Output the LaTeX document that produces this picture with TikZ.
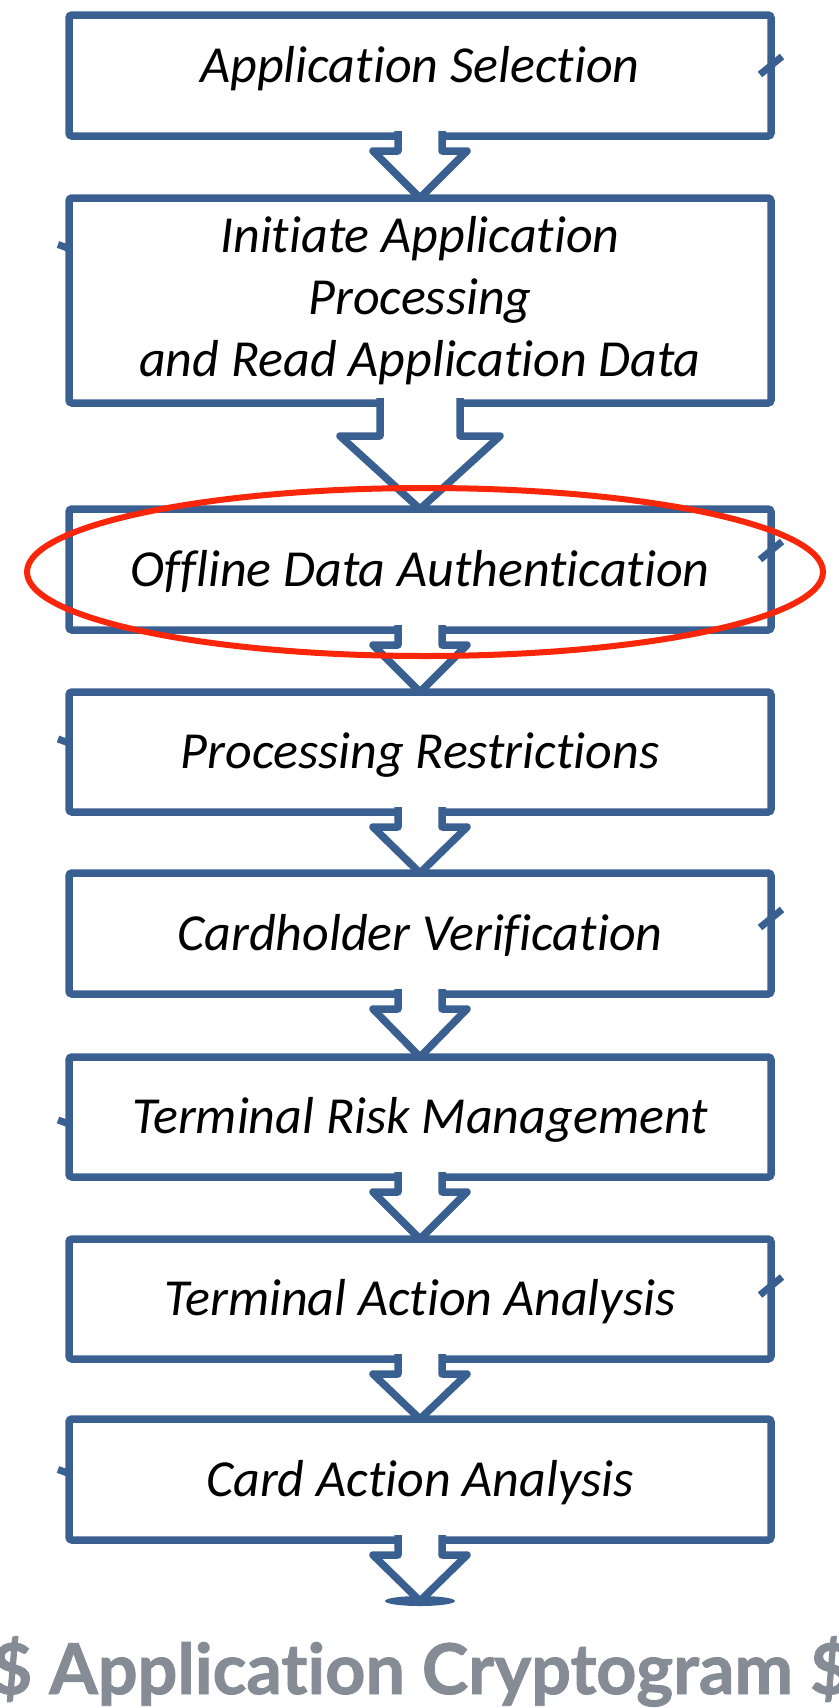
\documentclass[tikz,border=0pt]{standalone}
\usepackage{fontspec}
\setmainfont{Carlito}[RawFeature={-liga;-clig;-dlig;-calt}]
\newfontfamily\capfont{Lato}[RawFeature={-liga;-clig;-dlig;-calt},BoldFeatures={FakeBold=1.3}]
\usetikzlibrary{calc}
\definecolor{boxblue}{RGB}{58,95,145}
\definecolor{ovalred}{RGB}{250,38,10}
\definecolor{capgray}{RGB}{133,140,150}
\newcommand{\smallarr}[2]{%
  \filldraw[arrowline] ($(#1.south)+(-22,-5)$) -- ($(#1.south)+(-22,15)$) -- ($(#1.south)+(-47,15)$) -- (#2.north) -- ($(#1.south)+(47,15)$) -- ($(#1.south)+(22,15)$) -- ($(#1.south)+(22,-5)$);}
\newcommand{\rtick}[2]{\draw[tickline] ($(#1.east)+(-11,#2+9)$) -- ($(#1.east)+(11,#2-9)$);}
\newcommand{\ltick}[2]{\draw[tickline] ($(#1.west)+(-11,#2-2)$) -- ($(#1.west)+(0,#2+2)$);}
\begin{document}
\begin{tikzpicture}[x=1pt,y=-1pt,
  stage/.style={draw=boxblue, line width=7.5pt, fill=white, rounded corners=3pt,
    minimum width=702pt, inner sep=0pt, outer sep=0pt, anchor=north,
    font=\itshape\fontsize{52}{62}\selectfont, text height=40pt, text depth=7pt},
  arrowline/.style={draw=boxblue, fill=white, line width=7.5pt, line join=round},
  tickline/.style={draw=boxblue, line width=7pt},
  caption/.style={text=capgray, font=\capfont\bfseries\fontsize{70}{80}\selectfont, anchor=base, inner sep=0pt}]
\useasboundingbox[fill=white] (0,0) rectangle (838,1708);

\node[stage, minimum height=121pt, text depth=27pt] (b1) at (420,15) {Application Selection};
\node[stage, minimum height=205pt, align=center, text height=, text depth=] (b2) at (420,198) {Initiate Application\\Processing\\and Read Application Data};
\node[stage, minimum height=121pt] (b3) at (420,509) {Offline Data Authentication};
\node[stage, minimum height=120pt] (b4) at (420,692) {Processing Restrictions};
\node[stage, minimum height=121pt] (b5) at (420,873) {Cardholder Verification};
\node[stage, minimum height=120pt] (b6) at (420,1057) {Terminal Risk Management};
\node[stage, minimum height=120pt] (b7) at (420,1239) {Terminal Action Analysis};
\node[stage, minimum height=121pt] (b8) at (420,1419) {Card Action Analysis};
\coordinate (end) at (420,1601);

\smallarr{b1}{b2}
\filldraw[arrowline] ($(b2.south)+(-40,-5)$) -- ($(b2.south)+(-40,33)$) -- ($(b2.south)+(-80,33)$) -- (b3.north) -- ($(b2.south)+(80,33)$) -- ($(b2.south)+(40,33)$) -- ($(b2.south)+(40,-5)$);
\smallarr{b3}{b4}
\smallarr{b4}{b5}
\smallarr{b5}{b6}
\smallarr{b6}{b7}
\smallarr{b7}{b8}
\smallarr{b8}{end}
\fill[boxblue] (end) ellipse [x radius=35, y radius=5];

\rtick{b1}{-10}
\ltick{b2}{-54}
\rtick{b3}{-19}
\ltick{b4}{-11}
\rtick{b5}{-15}
\ltick{b6}{5}
\rtick{b7}{-13}
\ltick{b8}{-8}

\draw[ovalred, line width=6pt] (425,572) ellipse [x radius=398, y radius=84];

\node[caption] (cap) at (421,1694) {\$ Application Cryptogram \$};
\end{tikzpicture}
\end{document}
